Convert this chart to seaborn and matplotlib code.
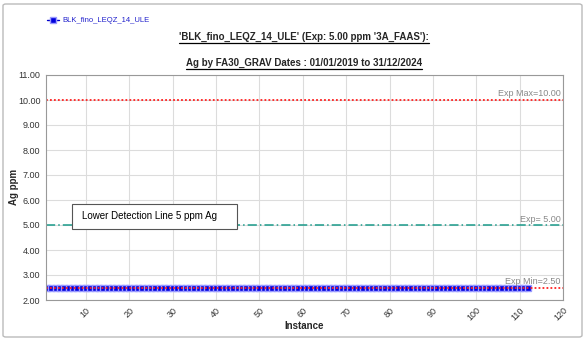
import matplotlib
matplotlib.use("Agg")
import matplotlib.pyplot as plt
import seaborn as sns
import numpy as np
import pandas as pd
from matplotlib.patches import FancyBboxPatch, Rectangle

series_name = "BLK_fino_LEQZ_14_ULE"
n_points = 112
instances = list(range(1, n_points + 1))
values = [2.5] * n_points
exp_max = 10.0
exp_val = 5.0
exp_min = 2.5
x_ticks = [10, 20, 30, 40, 50, 60, 70, 80, 90, 100, 110, 120]
y_ticks = [2, 3, 4, 5, 6, 7, 8, 9, 10, 11]
title1 = "'BLK_fino_LEQZ_14_ULE' (Exp: 5.00 ppm '3A_FAAS'):"
title2 = "Ag by FA30_GRAV Dates : 01/01/2019 to 31/12/2024"
note = "Lower Detection Line 5 ppm Ag"

df = pd.DataFrame({"Instance": instances, "Ag": values})

sns.set_theme(style="white")
plt.rcParams['font.family'] = ['Liberation Sans', 'DejaVu Sans']

W, H = 585, 340
fig = plt.figure(figsize=(5.85, 3.4), dpi=100)
ax = fig.add_axes([46/W, 1 - 300/H, (563-46)/W, (300-75)/H])

ax.grid(True, color="#dcdcdc", linewidth=0.8)
ax.set_axisbelow(True)

sns.lineplot(data=df, x="Instance", y="Ag", ax=ax, color="#0000cc", linewidth=1.0,
             marker="s", markersize=4.5, markerfacecolor="#0000dd",
             markeredgecolor="#9a9aff", markeredgewidth=1.0, legend=False)

ax.axhline(exp_max, color="#ff2020", linestyle=(0, (1, 1.2)), linewidth=1.3)
ax.axhline(exp_val, color="#1a9a8a", linestyle=(0, (6, 2, 1, 2)), linewidth=1.1)
ax.axhline(exp_min, color="#ff2020", linestyle=(0, (1, 1.2)), linewidth=1.3)

ax.text(119.5, exp_max + 0.06, "Exp Max=10.00", ha="right", va="bottom", fontsize=6.5, color="#888888")
ax.text(119.5, exp_val + 0.06, "Exp= 5.00", ha="right", va="bottom", fontsize=6.5, color="#888888")
ax.text(119.5, exp_min + 0.06, "Exp Min=2.50", ha="right", va="bottom", fontsize=6.5, color="#888888")

ax.set_xlim(0.8, 120)
ax.set_ylim(2, 11)
ax.set_xticks(x_ticks)
ax.set_yticks(y_ticks)
ax.set_xticklabels([str(t) for t in x_ticks], rotation=45, ha="right", rotation_mode="anchor",
                   fontsize=6.5, color="#333333")
ax.set_yticklabels([f"{t:.2f}" for t in y_ticks], fontsize=6.5, color="#333333")
ax.tick_params(axis="both", length=2, pad=2)
for s in ax.spines.values():
    s.set_color("#999999")
    s.set_linewidth(0.8)

ax.set_xlabel("")
ax.set_ylabel("")
fig.text(304/W, 1 - 326/H, "Instance", ha="center", va="center", fontsize=7, fontweight="bold")
fig.text(14/W, 1 - 187/H, "Ag ppm", ha="center", va="center", fontsize=7, fontweight="bold", rotation=90)

ax.add_patch(Rectangle((6.8, 4.84), 38.0, 1.0, facecolor="white", edgecolor="#555555",
                       linewidth=0.8, zorder=5))
ax.text(9.2, 5.36, note, fontsize=7, va="center", ha="left", color="black", zorder=6)

t1 = fig.text(304/W, 1 - 37/H, title1, ha="center", va="center", fontsize=7, fontweight="bold")
t2 = fig.text(304/W, 1 - 63/H, title2, ha="center", va="center", fontsize=7, fontweight="bold")
fig.canvas.draw()
r = fig.canvas.get_renderer()
for t in (t1, t2):
    bb = t.get_window_extent(renderer=r)
    yy = (bb.y0 - 0.5) / (H)
    fig.add_artist(plt.Line2D([bb.x0 / W, bb.x1 / W], [yy, yy], color="black",
                              linewidth=0.9, transform=fig.transFigure))

# legend
fig.add_artist(plt.Line2D([47/W, 53/W, 59/W], [1 - 20/H] * 3, color="#0000cc",
                          linewidth=1, marker="s", markersize=4, markevery=[1],
                          markerfacecolor="#0000dd", markeredgecolor="#9a9aff",
                          transform=fig.transFigure))
fig.text(62/W, 1 - 20/H, series_name, fontsize=5.5, color="#2020cc", va="center", ha="left")

border = FancyBboxPatch((3/W, 3/H), 579/W, 333/H, boxstyle="round,pad=0,rounding_size=0.005",
                        transform=fig.transFigure, facecolor="none", edgecolor="#bbbbbb", linewidth=1)
fig.add_artist(border)

fig.savefig("out.png", dpi=100)
